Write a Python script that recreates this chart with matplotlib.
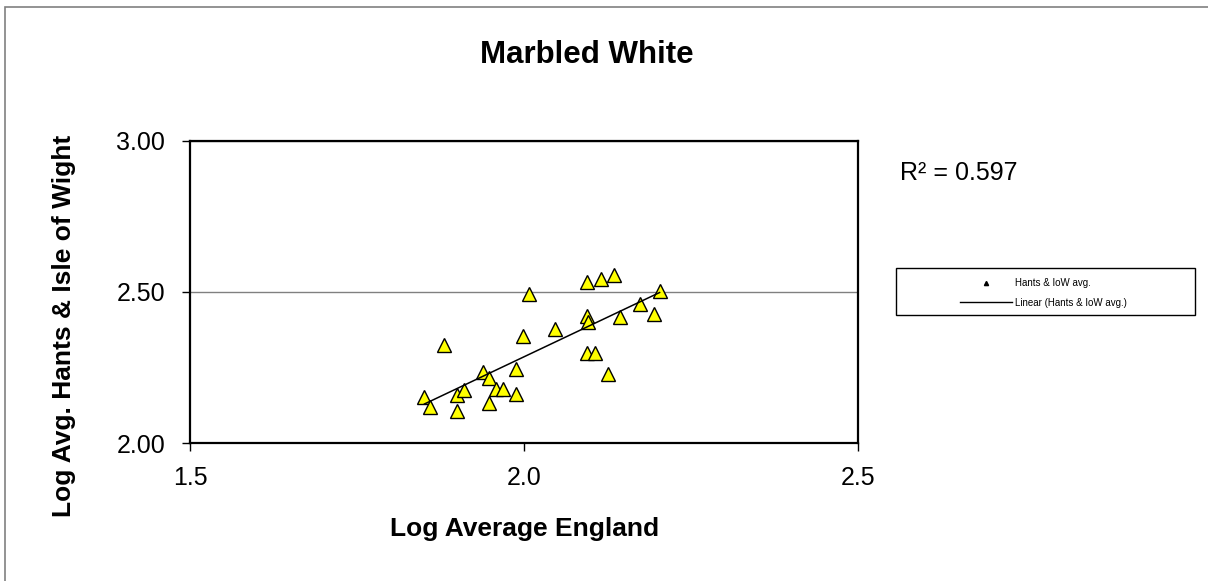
import numpy as np
import matplotlib
matplotlib.use("Agg")
import matplotlib.pyplot as plt
from matplotlib.lines import Line2D
from matplotlib.patches import Rectangle

plt.rcParams["font.family"] = ["Liberation Sans", "DejaVu Sans"]

# data
log_england = [1.851, 1.860, 1.880, 1.900, 1.900, 1.910, 1.938, 1.948, 1.948, 1.958,
               1.968, 1.988, 1.988, 1.998, 2.008, 2.046, 2.095, 2.095, 2.096, 2.095,
               2.106, 2.115, 2.125, 2.134, 2.144, 2.174, 2.194, 2.203]
log_hants = [2.154, 2.119, 2.324, 2.160, 2.108, 2.176, 2.237, 2.217, 2.132, 2.178,
             2.178, 2.245, 2.163, 2.355, 2.492, 2.378, 2.533, 2.421, 2.402, 2.297,
             2.297, 2.542, 2.229, 2.556, 2.416, 2.460, 2.427, 2.504]
r_squared = 0.597
x_ticks = [1.5, 2.0, 2.5]
y_ticks = [2.0, 2.5, 3.0]

W, H = 1208, 581
fig = plt.figure(figsize=(W / 100, H / 100), dpi=100)
ax = fig.add_axes([190 / W, 1 - 443.3 / H, 668 / W, 302.6 / H])

x = np.array(log_england)
y = np.array(log_hants)
ax.plot(x, y, linestyle="none", marker="^", markersize=10, markerfacecolor="#FFFF00",
        markeredgecolor="black", markeredgewidth=1.0, zorder=3)

# linear trendline
slope, intercept = np.polyfit(x, y, 1)
xs = np.array([x.min(), x.max()])
ax.plot(xs, slope * xs + intercept, color="black", linewidth=1.1, zorder=4)

ax.set_xlim(1.5, 2.5)
ax.set_ylim(2.0, 3.0)
ax.set_xticks(x_ticks)
ax.set_xticklabels(["%.1f" % v for v in x_ticks])
ax.set_yticks(y_ticks)
ax.set_yticklabels(["%.2f" % v for v in y_ticks])
ax.tick_params(axis="both", direction="out", length=6, width=1, labelsize=18)
ax.tick_params(axis="y", pad=12)
ax.tick_params(axis="x", pad=10)
ax.yaxis.grid(True, color="#808080", linewidth=1.0, zorder=1)
ax.set_axisbelow(True)
for sp in ax.spines.values():
    sp.set_linewidth(1.6)

fig.text(587 / W, 1 - 55 / H, "Marbled White", fontsize=22.5, fontweight="bold",
         ha="center", va="center")
fig.text(525 / W, 1 - 529 / H, "Log Average England", fontsize=19, fontweight="bold",
         ha="center", va="center")
fig.text(64 / W, 1 - 326 / H, "Log Avg. Hants & Isle of Wight", fontsize=19,
         fontweight="bold", ha="center", va="center", rotation=90)
fig.text(900 / W, 1 - 173 / H, "R\u00b2 = %.3f" % r_squared, fontsize=18,
         ha="left", va="center")

# legend
handles = [Line2D([], [], linestyle="none", marker="^", markersize=3, color="black"),
           Line2D([], [], color="black", linewidth=1)]
fig.legend(handles, ["Hants & IoW avg.", "Linear (Hants & IoW avg.)"],
           loc="upper left", bbox_to_anchor=(960 / W, 1 - 278 / H), frameon=False,
           fontsize=7, handlelength=5.4, handletextpad=0.3, labelspacing=1.0,
           borderpad=0, borderaxespad=0)
fig.add_artist(Rectangle((896 / W, 1 - 315 / H), 299 / W, 47 / H, transform=fig.transFigure,
                         fill=False, edgecolor="black", linewidth=1))

# outer chart border
fig.add_artist(Rectangle((5 / W, -0.1), 1.2, 1.1 - 7 / H, transform=fig.transFigure,
                         fill=False, edgecolor="#808080", linewidth=1.2, clip_on=False))

fig.savefig("out.png", dpi=100)
